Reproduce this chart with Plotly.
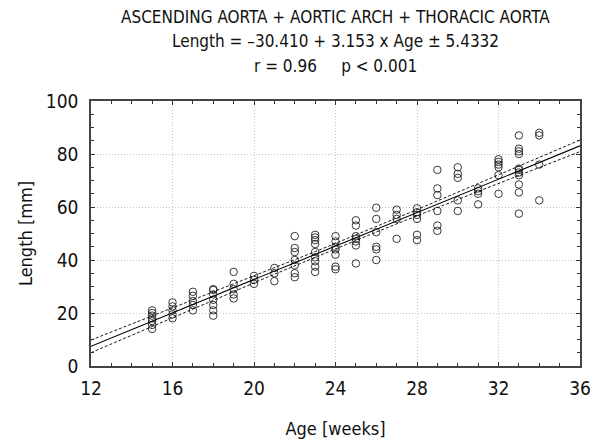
import numpy as np
import plotly.graph_objects as go

# Data: age (weeks) -> list of lengths (mm)
ages = [15, 16, 17, 18, 19, 20, 21, 22, 23, 24, 25, 26, 27, 28, 29, 30, 31, 32, 33, 34]
lengths = [
    [14, 15.5, 17, 18, 19, 20, 21],
    [18, 19.5, 21, 22.5, 24],
    [21, 23, 24.5, 26.5, 28],
    [19, 21, 23, 25, 27, 28.7, 29],
    [25.5, 27, 29, 31, 35.5],
    [31, 32.5, 34],
    [32, 35, 37],
    [33.5, 35, 38, 40, 43, 44.5, 49],
    [35.5, 37.5, 39.5, 41, 43, 46, 47.5, 48.5, 49.5],
    [36.5, 37.5, 42, 44, 45, 47, 49],
    [38.7, 45.5, 47, 48, 49, 53, 55],
    [40, 44, 45, 50.5, 55.5, 59.7],
    [48, 55.5, 57, 59],
    [47.5, 49.5, 55.5, 57, 58, 59.5],
    [51, 53, 58.5, 64.5, 67, 74],
    [58.5, 62.5, 71, 72.5, 75],
    [61, 65, 66, 67],
    [65, 72, 75, 76, 77, 78],
    [57.5, 65.5, 68.5, 72, 73, 74, 74.5, 80, 81, 82, 87],
    [62.5, 76, 87, 88],
]

intercept = -30.410
slope = 3.153
resid_sd = 5.4332
t_crit = 1.98

x_ticks = [12, 16, 20, 24, 28, 32, 36]
y_ticks = [0, 20, 40, 60, 80, 100]

title_lines = [
    "ASCENDING AORTA + AORTIC ARCH + THORACIC AORTA",
    "Length = \u201330.410 + 3.153 x Age \u00b1 5.4332",
    "r = 0.96\u00a0\u00a0\u00a0\u00a0\u00a0p < 0.001",
]

px_, py_ = [], []
for a, ls in zip(ages, lengths):
    for v in ls:
        px_.append(a)
        py_.append(v)
px_ = np.array(px_, float)
py_ = np.array(py_, float)

n = len(px_)
xm = px_.mean()
sxx = ((px_ - xm) ** 2).sum()
xl = np.linspace(12, 36, 121)
yl = intercept + slope * xl
half = t_crit * resid_sd * np.sqrt(1.0 / n + (xl - xm) ** 2 / sxx)

FONT = "DejaVu Sans Condensed, Liberation Sans Narrow, sans-serif"

fig = go.Figure()
fig.add_trace(go.Scatter(x=px_, y=py_, mode="markers",
                         marker=dict(symbol="circle-open", size=7.5, color="#222",
                                     line=dict(width=0.9, color="#222")),
                         showlegend=False, cliponaxis=True))
fig.add_trace(go.Scatter(x=xl, y=yl, mode="lines", line=dict(color="black", width=1.1),
                         showlegend=False))
fig.add_trace(go.Scatter(x=xl, y=yl + half, mode="lines",
                         line=dict(color="black", width=0.9, dash="3px,2px"), showlegend=False))
fig.add_trace(go.Scatter(x=xl, y=yl - half, mode="lines",
                         line=dict(color="black", width=0.9, dash="3px,2px"), showlegend=False))

ann = []
for t, yy in zip(title_lines, [1.317, 1.226, 1.132]):
    ann.append(dict(text=t, x=0.5, y=yy, xref="paper", yref="paper", showarrow=False,
                    xanchor="center", yanchor="middle",
                    font=dict(family=FONT, size=17, color="#111")))

common = dict(ticks="inside", ticklen=4, tickcolor="#333", showline=True,
              linecolor="#444", linewidth=1.5, mirror="allticks", showgrid=True,
              gridcolor="#c4c4c4", griddash="1px,2px", gridwidth=1, zeroline=False,
              automargin=False,
              tickfont=dict(family=FONT, size=19, color="#111"))

fig.update_layout(
    width=604, height=444,
    margin=dict(l=91, r=24, t=101, b=78),
    paper_bgcolor="white", plot_bgcolor="white",
    font=dict(family=FONT, color="#111"),
    annotations=ann,
    xaxis=dict(range=[12, 36], tickvals=x_ticks, ticklabelstandoff=4,
               minor=dict(dtick=1, ticks="inside", ticklen=3, tickcolor="#333", showgrid=False),
               title=dict(text="Age [weeks]", font=dict(family=FONT, size=18, color="#111"),
                          standoff=25),
               **common),
    yaxis=dict(range=[0, 100], tickvals=y_ticks, ticklabelstandoff=7,
               minor=dict(dtick=5, ticks="inside", ticklen=3, tickcolor="#333", showgrid=False),
               title=dict(text="Length [mm]", font=dict(family=FONT, size=18, color="#111"),
                          standoff=9),
               **common),
)

fig.write_html("out.html")
